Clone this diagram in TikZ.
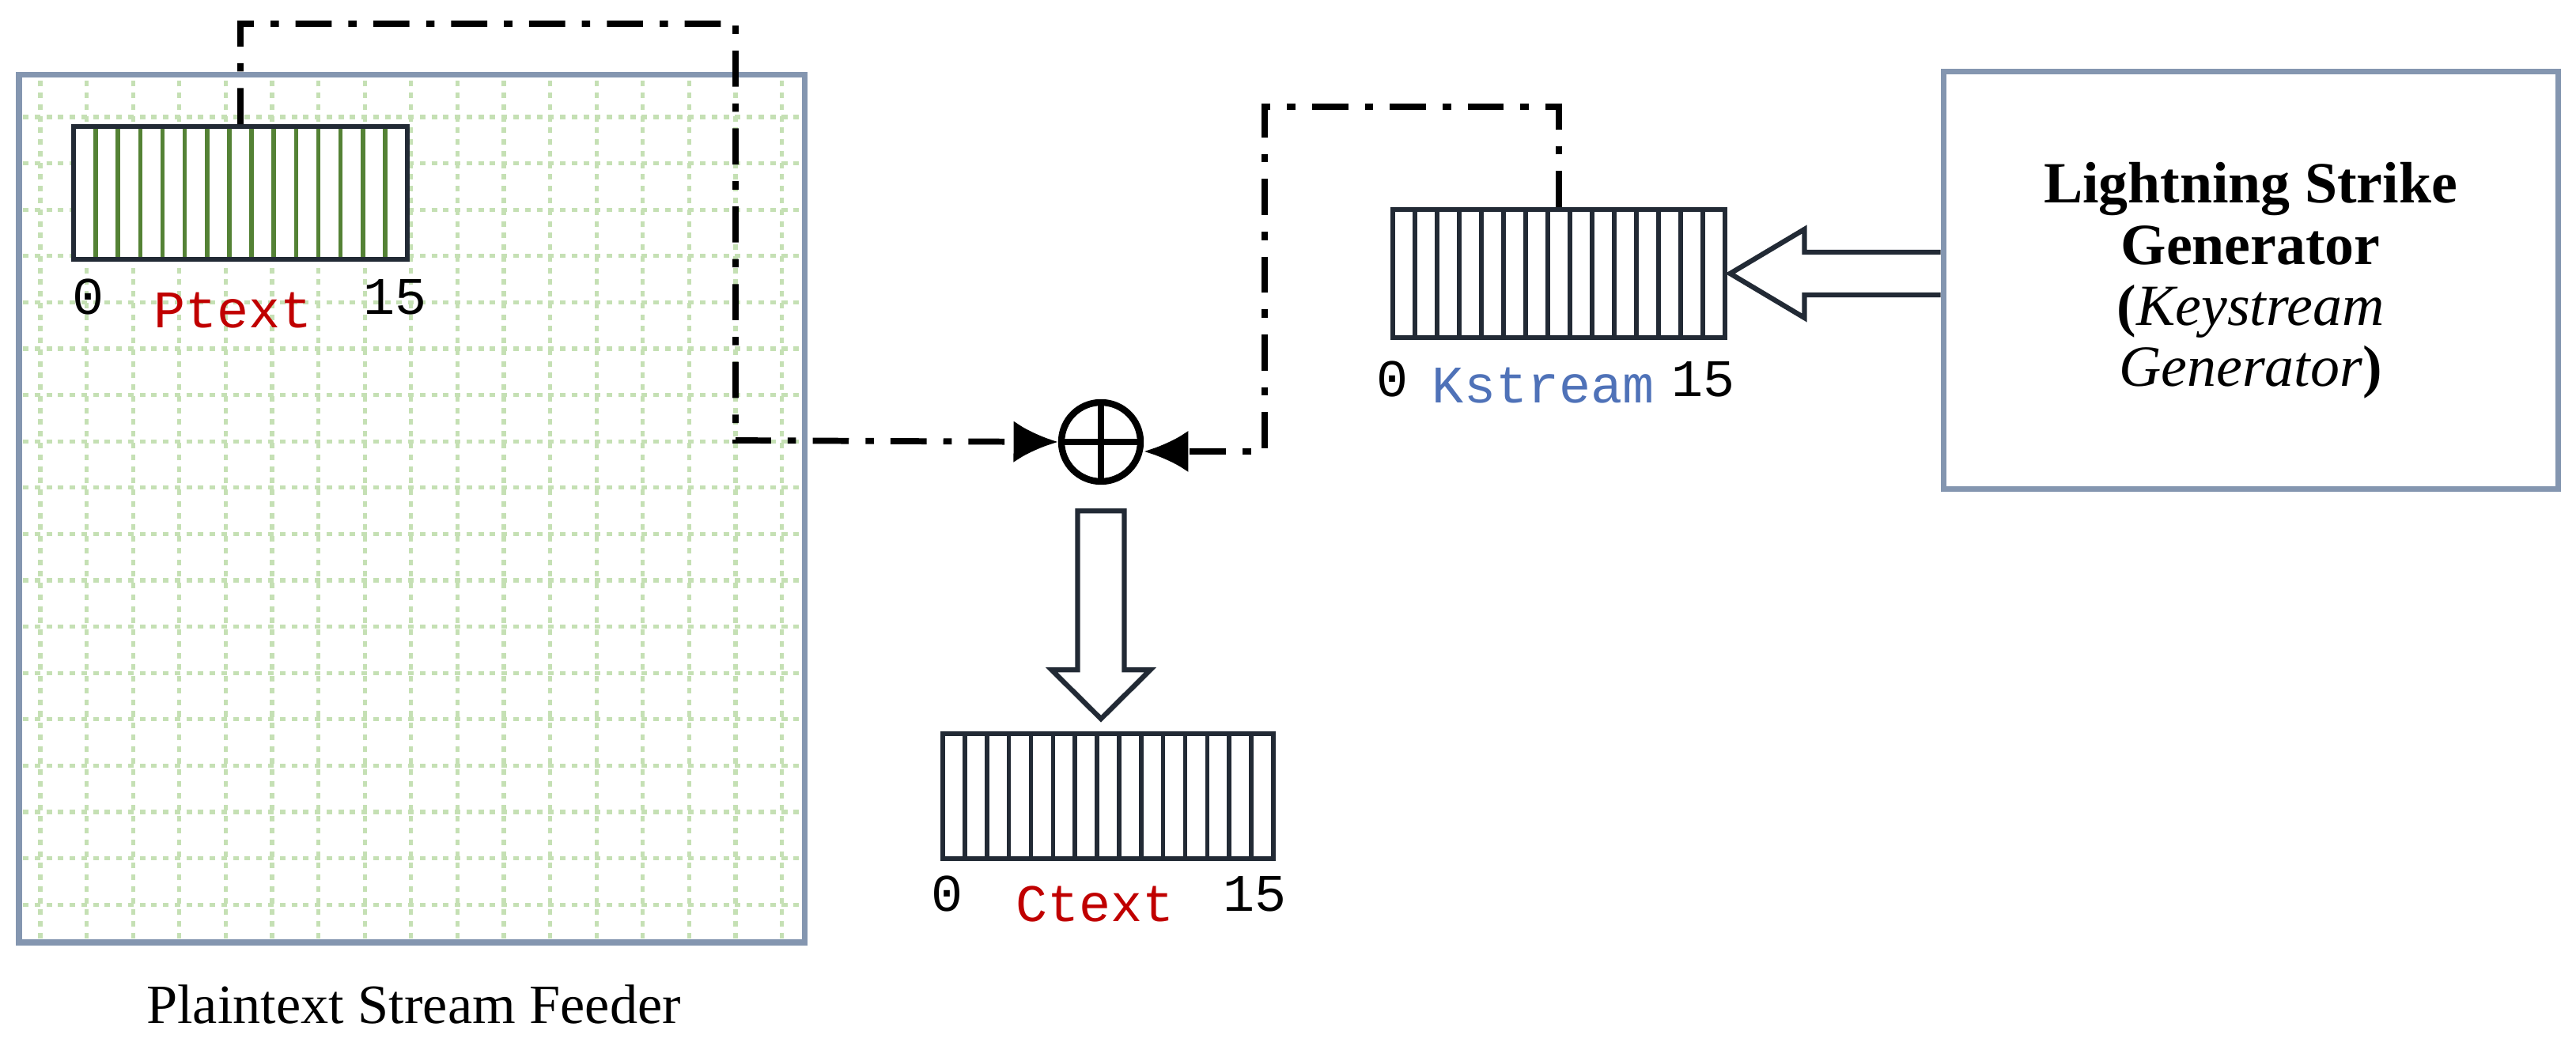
\documentclass[tikz,border=0pt]{standalone}
\usepackage{fontspec}
\setmainfont{Liberation Serif}
\newfontfamily\regfont{Liberation Mono}
\usetikzlibrary{arrows.meta,calc,positioning}

\definecolor{regdark}{HTML}{222A35}
\definecolor{reggreen}{HTML}{548235}
\definecolor{gridgreen}{HTML}{C5E0B4}
\definecolor{boxgray}{HTML}{8496B0}
\definecolor{labred}{HTML}{C00000}
\definecolor{labblue}{HTML}{4F72B8}

\tikzset{
	reg line/.store in=\regline, reg line=regdark,
	reg/.style={draw=regdark, line width=1.6pt, fill=white,
			minimum width=4.2cm, minimum height=1.62cm, inner sep=0pt,
			path picture={
					\foreach \k in {1,...,14}
					\draw[line width=1.6pt, \regline]
					($(path picture bounding box.south west)!\k/15!(path picture bounding box.south east)$)
					-- ($(path picture bounding box.north west)!\k/15!(path picture bounding box.north east)$);
				}},
	idx/.style={font=\regfont\fontsize{19}{22}\selectfont},
	dashflow/.style={line width=2.2pt, dash pattern=on 13pt off 6pt on 3pt off 6pt,
			-{Latex[length=16pt,width=15pt]}},
	hollow/.style={draw=regdark, line width=1.8pt, fill=white, line join=miter},
	big/.style={font=\fontsize{20}{20.5}\selectfont},
	genfont/.style={font=\fontsize{21}{22}\selectfont}
}

\begin{document}
\begin{tikzpicture}
	\useasboundingbox (0,0) rectangle (32.57,13.23);

	% Plaintext feeder mit Punktgitter
	\fill[white] (0.24,1.31) rectangle (10.17,12.28);
	\foreach \i in {0,...,16}
	\draw[gridgreen, line width=1.5pt, dash pattern=on 2pt off 2.2pt]
	(0.51+0.586*\i,1.36) -- (0.51+0.586*\i,12.23);
	\foreach \j in {0,...,17}
	\draw[gridgreen, line width=1.5pt, dash pattern=on 2pt off 2.2pt]
	(0.29,11.75-0.586*\j) -- (10.12,11.75-0.586*\j);
	\node (feeder) [draw=boxgray, line width=2pt, minimum width=9.93cm,
		minimum height=10.97cm, inner sep=0pt] at (5.205,6.795) {};
	\node (feedlab) [big] at (5.23,0.53) {Plaintext Stream Feeder};

	% Register
	\node (ptext) [reg, reg line=reggreen, minimum width=4.22cm, minimum height=1.68cm] at (3.04,10.79) {};
	\node (kstream) [reg, reg line=regdark] at (19.71,9.77) {};
	\node (ctext) [reg, reg line=regdark, minimum width=4.18cm, minimum height=1.58cm] at (14.01,3.16) {};

	\node (p0) [idx] at ($(ptext.south west)+(0.21,-0.45)$) {0};
	\node (pname) [idx, text=labred] at ($(ptext.south west)+(2.04,-0.62)$) {Ptext};
	\node (p15) [idx] at ($(ptext.south west)+(4.09,-0.45)$) {15};

	\node (k0) [idx] at ($(kstream.south west)+(0.02,-0.5)$) {0};
	\node (kname) [idx, text=labblue] at ($(kstream.south west)+(1.93,-0.58)$) {Kstream};
	\node (k15) [idx] at ($(kstream.south west)+(3.95,-0.5)$) {15};

	\node (c0) [idx] at ($(ctext.south west)+(0.08,-0.42)$) {0};
	\node (cname) [idx, text=labred] at ($(ctext.south west)+(1.95,-0.55)$) {Ctext};
	\node (c15) [idx] at ($(ctext.south west)+(3.97,-0.42)$) {15};

	% XOR
	\node (xor) [circle, draw=black, line width=2.4pt, minimum size=1.0cm, inner sep=0pt,
		path picture={
				\draw[line width=2.2pt] (path picture bounding box.north) -- (path picture bounding box.south);
				\draw[line width=2.2pt] (path picture bounding box.west) -- (path picture bounding box.east);
			}] at (13.92,7.64) {};

	% Generator
	\node (gen) [draw=boxgray, line width=2pt, minimum width=7.77cm, minimum height=5.28cm,
		align=center, genfont] at (28.455,9.68)
	{\textbf{Lightning Strike}\\ \textbf{Generator}\\ \textbf{(}\textit{Keystream}\\ \textit{Generator}\textbf{)}};

	% Datenfluss
	\coordinate (ptop) at (3.05,12.93);
	\coordinate (pturn) at (9.30,7.66);
	\coordinate (ktop) at (19.70,11.88);
	\coordinate (kturn) at (15.99,7.52);
	\draw[dashflow] (ptext.north) |- (ptop) -| (pturn) -- (xor.west);
	\draw[dashflow] (kstream.north) |- (ktop) -| (kturn) -- (kturn -| xor.east);

	% Hohlpfeile
	\draw[hollow] ($(xor.south)+(-0.295,-0.33)$) -- ++(0.59,0) -- ++(0,-2.01)
	-- ++(0.33,0) -- ++(-0.625,-0.62) -- ++(-0.625,0.62) -- ++(0.33,0) -- cycle;
	\draw[hollow] ($(gen.west |- kstream.east)+(0,0.27)$) -- ++(-1.72,0) -- ++(0,0.29)
	-- ++(-0.94,-0.56) -- ++(0.94,-0.56) -- ++(0,0.29) -- ++(1.72,0);
\end{tikzpicture}
\end{document}
